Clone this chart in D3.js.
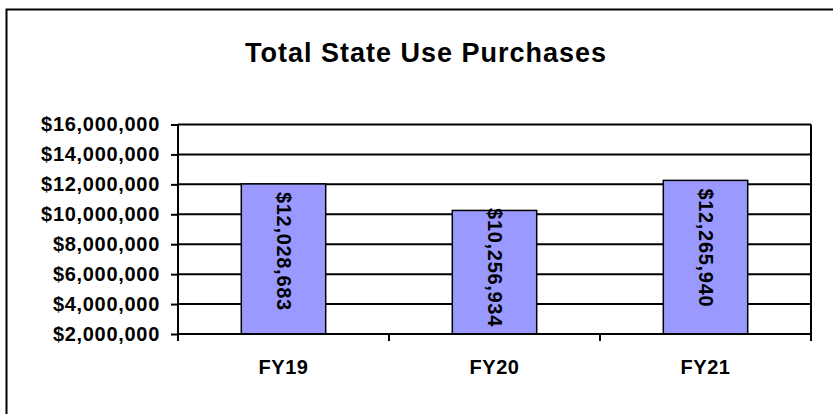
<html lang="en">
<head>
<meta charset="UTF-8">
<script src="https://d3js.org/d3.v7.min.js"></script>
<style>
  body { margin: 0; background: #fff; }
  svg text { font-family: Arial, "Liberation Sans", sans-serif; font-weight: bold; fill: #000; }
</style>
</head>
<body>
<div id="here"></div>
<script>
  const categories = ["FY19", "FY20", "FY21"];
  const purchases = [12028683, 10256934, 12265940];
  const yTicks = [2000000, 4000000, 6000000, 8000000, 10000000, 12000000, 14000000, 16000000];

  const W = 833, H = 414;
  const plotLeft = 178, plotRight = 811, plotTop = 124.5, plotBottom = 334;

  const svg = d3.select("#here").append("svg")
    .attr("width", W).attr("height", H);

  // outer frame (right and bottom run off the picture)
  svg.append("rect")
    .attr("x", 6.5).attr("y", 9.5)
    .attr("width", 900).attr("height", 500)
    .attr("fill", "none").attr("stroke", "#000").attr("stroke-width", 2);

  svg.append("text")
    .attr("x", 426).attr("y", 62)
    .attr("text-anchor", "middle")
    .style("font-size", "27px")
    .style("letter-spacing", "1px")
    .text("Total State Use Purchases");

  const x = d3.scaleBand().domain(categories).range([plotLeft, plotRight])
    .paddingInner(0.6).paddingOuter(0.3);
  const y = d3.scaleLinear().domain([2000000, 16000000]).range([plotBottom, plotTop]);

  const fmt = d => "$" + d3.format(",")(d);

  // gridlines
  svg.append("g").selectAll("line").data(yTicks).join("line")
    .attr("x1", plotLeft).attr("x2", plotRight)
    .attr("y1", d => y(d)).attr("y2", d => y(d))
    .attr("stroke", "#000").attr("stroke-width", 2);

  // right border of plot area
  svg.append("line")
    .attr("x1", plotRight).attr("x2", plotRight).attr("y1", plotTop).attr("y2", plotBottom + 7)
    .attr("stroke", "#000").attr("stroke-width", 2);

  // bars
  svg.append("g").selectAll("rect").data(purchases).join("rect")
    .attr("x", (d, i) => x(categories[i]))
    .attr("y", d => y(d))
    .attr("width", x.bandwidth())
    .attr("height", d => plotBottom - y(d))
    .attr("fill", "#9999ff")
    .attr("stroke", "#000").attr("stroke-width", 1.5);

  // bar value labels, rotated; pushed up when they would run past the bar bottom
  svg.append("g").selectAll("text").data(purchases).join("text")
    .attr("dy", "0.35em")
    .style("font-size", "20px")
    .style("letter-spacing", "0.7px")
    .text(fmt)
    .attr("transform", function (d, i) {
      const len = this.getComputedTextLength();
      const start = Math.min(y(d) + 8, plotBottom - 7 - len);
      return `translate(${x(categories[i]) + x.bandwidth() / 2},${start}) rotate(90)`;
    });

  // y axis
  const yAxis = svg.append("g")
    .attr("transform", `translate(${plotLeft},0)`)
    .call(d3.axisLeft(y).tickValues(yTicks).tickFormat(fmt).tickSize(7).tickPadding(11));
  yAxis.select(".domain").attr("stroke-width", 2).attr("d", `M0,${plotTop}V${plotBottom + 7}`);
  yAxis.selectAll(".tick line").attr("stroke-width", 2);
  yAxis.selectAll("text").style("font-size", "20px").style("letter-spacing", "0.7px");

  // x axis: ticks at category boundaries
  const xAxis = svg.append("g")
    .attr("transform", `translate(0,${plotBottom})`);
  xAxis.append("line").attr("x1", plotLeft).attr("x2", plotRight)
    .attr("stroke", "#000").attr("stroke-width", 2);
  const bounds = categories.map(c => x(c) - x.step() * x.paddingInner() / 2);
  xAxis.selectAll("line.tk").data(bounds).join("line").attr("class", "tk")
    .attr("x1", d => d).attr("x2", d => d).attr("y1", 0).attr("y2", 7)
    .attr("stroke", "#000").attr("stroke-width", 2);
  xAxis.selectAll("text").data(categories).join("text")
    .attr("x", d => x(d) + x.bandwidth() / 2)
    .attr("y", 40)
    .attr("text-anchor", "middle")
    .style("font-size", "20px")
    .style("letter-spacing", "0.5px")
    .text(d => d);
</script>
</body>
</html>
